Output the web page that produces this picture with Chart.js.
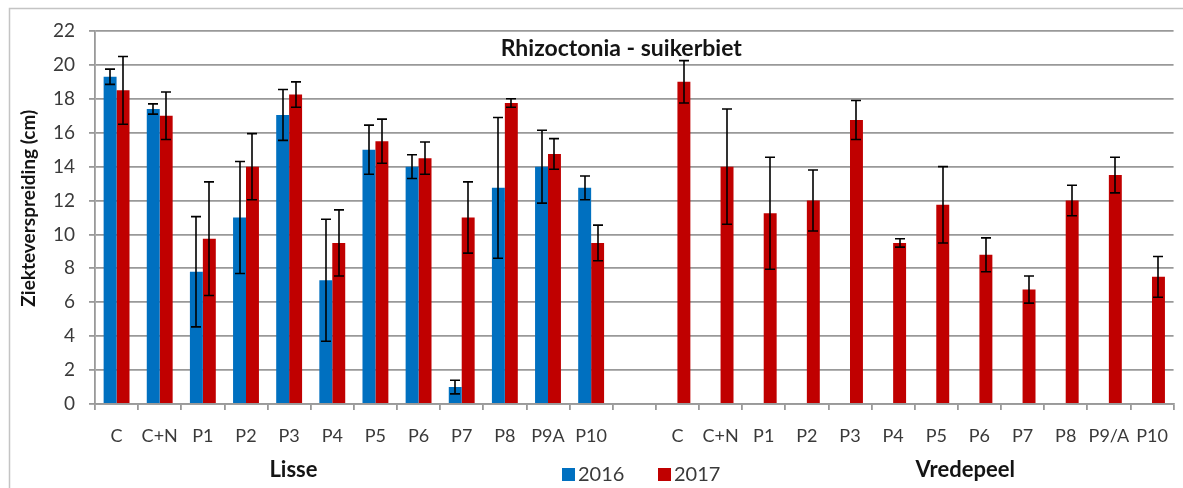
<!DOCTYPE html>
<html>
<head>
<meta charset="utf-8">
<script src="https://cdn.jsdelivr.net/npm/chart.js@4/dist/chart.umd.min.js"></script>
<style>
  html, body { margin: 0; padding: 0; background: #ffffff; }
  #wrap { width: 1183px; height: 488px; }
</style>
</head>
<body>
<div id="wrap"><canvas id="chart" width="1183" height="488"></canvas></div>
<script>
// Treatments per location; the empty entry separates Lisse from Vredepeel.
const categories = [
  'C', 'C+N', 'P1', 'P2', 'P3', 'P4', 'P5', 'P6', 'P7', 'P8', 'P9A', 'P10',
  '',
  'C', 'C+N', 'P1', 'P2', 'P3', 'P4', 'P5', 'P6', 'P7', 'P8', 'P9/A', 'P10'
];

// Disease spread (cm), 2016 (Lisse only)
const values2016 = [
  19.3, 17.4, 7.8, 11.0, 17.05, 7.3, 15.0, 14.0, 1.0, 12.75, 14.0, 12.75,
  null,
  null, null, null, null, null, null, null, null, null, null, null, null
];
const errors2016 = [
  0.45, 0.3, 3.25, 3.3, 1.5, 3.6, 1.45, 0.7, 0.4, 4.15, 2.15, 0.7,
  null,
  null, null, null, null, null, null, null, null, null, null, null, null
];

// Disease spread (cm), 2017
const values2017 = [
  18.5, 17.0, 9.75, 14.0, 18.25, 9.5, 15.5, 14.5, 11.0, 17.75, 14.75, 9.5,
  null,
  19.0, 14.0, 11.25, 12.0, 16.75, 9.5, 11.75, 8.8, 6.75, 12.0, 13.5, 7.5
];
const errors2017 = [
  2.0, 1.4, 3.35, 1.95, 0.75, 1.95, 1.3, 0.95, 2.1, 0.25, 0.9, 1.05,
  null,
  1.25, 3.4, 3.3, 1.8, 1.15, 0.25, 2.25, 1.0, 0.8, 0.9, 1.05, 1.2
];

const seriesNames = ['2016', '2017'];
const seriesColors = ['#0070C0', '#C00000'];
const yTicks = [0, 2, 4, 6, 8, 10, 12, 14, 16, 18, 20, 22];
const locations = ['Lisse', 'Vredepeel'];
const chartTitle = 'Rhizoctonia - suikerbiet';
const yTitle = 'Ziekteverspreiding (cm)';

const FONT = 'Lato, "Open Sans", sans-serif';
const GRID = '#999999';
const TEXT = '#3a3a3a';
const DARK = '#141414';

// White page with a thin frame around the figure
const frame = {
  id: 'frame',
  beforeDraw(chart) {
    const ctx = chart.ctx;
    ctx.save();
    ctx.fillStyle = '#ffffff';
    ctx.fillRect(0, 0, chart.width, chart.height);
    ctx.strokeStyle = '#c4c4c4';
    ctx.lineWidth = 1.5;
    ctx.strokeRect(9.5, 8.5, chart.width + 10, chart.height + 10);
    ctx.restore();
  }
};

// Whiskers for the standard deviation of each bar
const errorBars = {
  id: 'errorBars',
  afterDatasetsDraw(chart) {
    const ctx = chart.ctx;
    const y = chart.scales.y;
    ctx.save();
    ctx.strokeStyle = '#000000';
    ctx.lineWidth = 1.6;
    chart.data.datasets.forEach((ds, di) => {
      const meta = chart.getDatasetMeta(di);
      meta.data.forEach((bar, i) => {
        const v = ds.data[i];
        const e = ds.errors[i];
        if (v == null || e == null) return;
        const x = Math.round(bar.x);
        const yt = y.getPixelForValue(v + e);
        const yb = y.getPixelForValue(v - e);
        const cap = 5;
        ctx.beginPath();
        ctx.moveTo(x, yt); ctx.lineTo(x, yb);
        ctx.moveTo(x - cap, yt); ctx.lineTo(x + cap, yt);
        ctx.moveTo(x - cap, yb); ctx.lineTo(x + cap, yb);
        ctx.stroke();
      });
    });
    ctx.restore();
  }
};

// Title inside the plot, axis name, location names and the series key
const annotations = {
  id: 'annotations',
  afterDraw(chart) {
    const ctx = chart.ctx;
    const x = chart.scales.x;
    const y = chart.scales.y;
    const area = chart.chartArea;
    ctx.save();
    ctx.textBaseline = 'middle';
    ctx.textAlign = 'center';
    ctx.fillStyle = DARK;

    ctx.font = 'bold 23px ' + FONT;
    ctx.fillText(chartTitle, (area.left + area.right) / 2 - 13, y.getPixelForValue(20.95));

    ctx.save();
    ctx.translate(29, y.getPixelForValue(11.55));
    ctx.rotate(-Math.PI / 2);
    ctx.font = 'bold 19px ' + FONT;
    ctx.fillText(yTitle, 0, 0);
    ctx.restore();

    ctx.font = 'bold 22px ' + FONT;
    ctx.fillText(locations[0], x.getPixelForValue(4.1), 470);
    ctx.fillText(locations[1], x.getPixelForValue(19.67), 470);

    ctx.font = '20px ' + FONT;
    ctx.textAlign = 'left';
    const keyX = [562, 658];
    seriesNames.forEach((name, i) => {
      ctx.fillStyle = seriesColors[i];
      ctx.fillRect(keyX[i], 468, 13, 13);
      ctx.fillStyle = TEXT;
      ctx.fillText(name, keyX[i] + 16, 475);
    });
    ctx.restore();
  }
};

new Chart(document.getElementById('chart'), {
  type: 'bar',
  data: {
    labels: categories,
    datasets: [
      { label: seriesNames[0], data: values2016, errors: errors2016, backgroundColor: seriesColors[0] },
      { label: seriesNames[1], data: values2017, errors: errors2017, backgroundColor: seriesColors[1] }
    ]
  },
  options: {
    responsive: false,
    animation: false,
    devicePixelRatio: 1,
    layout: { padding: { left: 0, right: 8, top: 31, bottom: 34 } },
    datasets: { bar: { categoryPercentage: 0.6, barPercentage: 1.0 } },
    plugins: { legend: { display: false }, tooltip: { enabled: false } },
    scales: {
      x: {
        offset: true,
        grid: { display: true, drawOnChartArea: false, drawTicks: true, tickLength: 6, color: GRID, lineWidth: 1.8, offset: true },
        border: { display: true, color: GRID, width: 1.8 },
        ticks: { autoSkip: false, maxRotation: 0, padding: 15, color: TEXT, font: { family: FONT, size: 18 } },
        afterFit(scale) { scale.height = 50; }
      },
      y: {
        min: 0,
        max: 22,
        afterBuildTicks(scale) { scale.ticks = yTicks.map(v => ({ value: v })); },
        grid: { color: GRID, lineWidth: 1.8, tickLength: 6 },
        border: { display: true, color: GRID, width: 1.8 },
        ticks: { padding: 14, color: TEXT, font: { family: FONT, size: 19 } },
        afterFit(scale) { scale.width = 95; }
      }
    }
  },
  plugins: [frame, errorBars, annotations]
});
</script>
</body>
</html>
